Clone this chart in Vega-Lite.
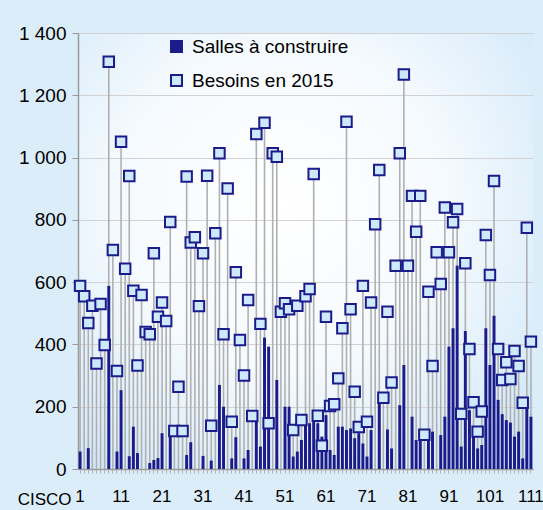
{
  "$schema": "https://vega.github.io/schema/vega-lite/v6.json",
  "width": 455,
  "height": 436,
  "autosize": "none",
  "padding": {"left": 78, "top": 33, "right": 10, "bottom": 41},
  "background": "#dcedfa",
  "config": {
    "font": "Liberation Sans",
    "view": {"stroke": null, "fill": {"gradient": "radial", "x1": 0.45, "y1": 0.4, "r1": 0, "x2": 0.45, "y2": 0.4, "r2": 0.8, "stops": [{"offset": 0, "color": "#ffffff"}, {"offset": 0.45, "color": "#f5fafe"}, {"offset": 1, "color": "#c9e4f8"}]}}
  },
  "data": {"values": [
    {"c":1,"s":56,"b":588},{"c":2,"s":0,"b":555},{"c":3,"s":67,"b":469},{"c":4,"s":0,"b":524},{"c":5,"s":0,"b":339},
    {"c":6,"s":0,"b":530},{"c":7,"s":0,"b":398},{"c":8,"s":588,"b":1308},{"c":9,"s":0,"b":703},{"c":10,"s":56,"b":315},
    {"c":11,"s":253,"b":1051},{"c":12,"s":0,"b":643},{"c":13,"s":41,"b":941},{"c":14,"s":136,"b":572},{"c":15,"s":51,"b":332},
    {"c":16,"s":0,"b":559},{"c":17,"s":0,"b":440},{"c":18,"s":19,"b":433},{"c":19,"s":29,"b":693},{"c":20,"s":35,"b":489},
    {"c":21,"s":115,"b":535},{"c":22,"s":0,"b":475},{"c":23,"s":136,"b":793},{"c":24,"s":0,"b":122},{"c":25,"s":0,"b":264},
    {"c":26,"s":0,"b":122},{"c":27,"s":45,"b":939},{"c":28,"s":86,"b":727},{"c":29,"s":0,"b":744},{"c":30,"s":0,"b":523},
    {"c":31,"s":42,"b":693},{"c":32,"s":0,"b":942},{"c":33,"s":27,"b":139},{"c":34,"s":0,"b":757},{"c":35,"s":270,"b":1014},
    {"c":36,"s":200,"b":433},{"c":37,"s":0,"b":901},{"c":38,"s":34,"b":152},{"c":39,"s":102,"b":632},{"c":40,"s":0,"b":414},
    {"c":41,"s":34,"b":300},{"c":42,"s":61,"b":543},{"c":43,"s":0,"b":170},{"c":44,"s":152,"b":1076},{"c":45,"s":72,"b":466},
    {"c":46,"s":422,"b":1112},{"c":47,"s":393,"b":147},{"c":48,"s":0,"b":1014},{"c":49,"s":286,"b":1003},{"c":50,"s":0,"b":505},
    {"c":51,"s":200,"b":532},{"c":52,"s":200,"b":513},{"c":53,"s":40,"b":125},{"c":54,"s":56,"b":524},{"c":55,"s":93,"b":157},
    {"c":56,"s":141,"b":555},{"c":57,"s":147,"b":578},{"c":58,"s":157,"b":947},{"c":59,"s":147,"b":171},{"c":60,"s":104,"b":75},
    {"c":61,"s":173,"b":489},{"c":62,"s":61,"b":202},{"c":63,"s":45,"b":208},{"c":64,"s":136,"b":291},{"c":65,"s":136,"b":452},
    {"c":66,"s":125,"b":1115},{"c":67,"s":130,"b":513},{"c":68,"s":99,"b":248},{"c":69,"s":115,"b":135},{"c":70,"s":82,"b":588},
    {"c":71,"s":40,"b":152},{"c":72,"s":125,"b":535},{"c":73,"s":0,"b":786},{"c":74,"s":211,"b":960},{"c":75,"s":0,"b":229},
    {"c":76,"s":127,"b":505},{"c":77,"s":66,"b":278},{"c":78,"s":0,"b":653},{"c":79,"s":205,"b":1014},{"c":80,"s":334,"b":1267},
    {"c":81,"s":0,"b":653},{"c":82,"s":168,"b":877},{"c":83,"s":93,"b":762},{"c":84,"s":90,"b":877},{"c":85,"s":0,"b":110},
    {"c":86,"s":115,"b":569},{"c":87,"s":120,"b":331},{"c":88,"s":0,"b":696},{"c":89,"s":109,"b":594},{"c":90,"s":168,"b":840},
    {"c":91,"s":393,"b":696},{"c":92,"s":452,"b":792},{"c":93,"s":653,"b":835},{"c":94,"s":72,"b":177},{"c":95,"s":443,"b":661},
    {"c":96,"s":189,"b":385},{"c":97,"s":114,"b":214},{"c":98,"s":66,"b":120},{"c":99,"s":77,"b":185},{"c":100,"s":452,"b":751},
    {"c":101,"s":334,"b":623},{"c":102,"s":492,"b":925},{"c":103,"s":222,"b":385},{"c":104,"s":176,"b":286},{"c":105,"s":157,"b":343},
    {"c":106,"s":149,"b":289},{"c":107,"s":104,"b":379},{"c":108,"s":120,"b":331},{"c":109,"s":34,"b":213},{"c":110,"s":195,"b":775},
    {"c":111,"s":168,"b":409}
  ]},
  "encoding": {
    "x": {
      "field": "c", "type": "ordinal",
      "scale": {"paddingInner": 0.28, "paddingOuter": 0.15},
      "axis": {
        "labelExpr": "(datum.value - 1) % 10 == 0 ? datum.value : ''",
        "labelAngle": 0, "labelOverlap": false, "labelFontSize": 17, "labelColor": "#000000",
        "labelPadding": 15, "tickSize": 4, "tickColor": "#b5b5b5", "domainColor": "#9a9a9a", "domainWidth": 1.5,
        "title": "CISCO", "titleFontSize": 17, "titleFontWeight": "normal", "titleColor": "#000000",
        "titleAnchor": "start", "titleAlign": "right", "titleBaseline": "alphabetic", "titleX": -7, "titleY": 35
      }
    }
  },
  "layer": [
    {
      "mark": {"type": "rule", "color": "#b0b0b0", "strokeWidth": 1.6},
      "encoding": {
        "y": {"field": "b", "type": "quantitative", "scale": {"domain": [0, 1400], "nice": false},
          "axis": {"values": [0, 200, 400, 600, 800, 1000, 1200, 1400], "labelExpr": "replace(format(datum.value, ','), ',', ' ')",
            "labelFontSize": 19, "labelColor": "#000000", "labelPadding": 6, "tickSize": 6, "tickColor": "#9a9a9a",
            "domainColor": "#9a9a9a", "domainWidth": 1.5, "gridColor": "#d2d2d2", "gridWidth": 1.2, "title": null}},
        "y2": {"datum": 0}
      }
    },
    {
      "mark": {"type": "bar", "width": {"band": 1}},
      "encoding": {
        "y": {"field": "s", "type": "quantitative"},
        "fill": {"datum": "Salles à construire", "type": "nominal",
          "scale": {"domain": ["Salles à construire", "Besoins en 2015"], "range": ["#1b1b8a", "#cde9fb"]},
          "legend": {"orient": "none", "legendX": 89, "legendY": 4, "title": null, "symbolType": "square", "symbolSize": 120,
            "symbolStrokeColor": "#1b1b8a", "symbolStrokeWidth": 2, "labelFontSize": 19, "labelColor": "#000000",
            "labelOffset": 6, "rowPadding": 14, "padding": 0}}
      }
    },
    {
      "mark": {"type": "point", "shape": "square", "size": 110, "filled": true, "opacity": 1, "stroke": "#1b1b8a", "strokeWidth": 2},
      "encoding": {
        "y": {"field": "b", "type": "quantitative"},
        "fill": {"datum": "Besoins en 2015", "type": "nominal"}
      }
    }
  ]
}
